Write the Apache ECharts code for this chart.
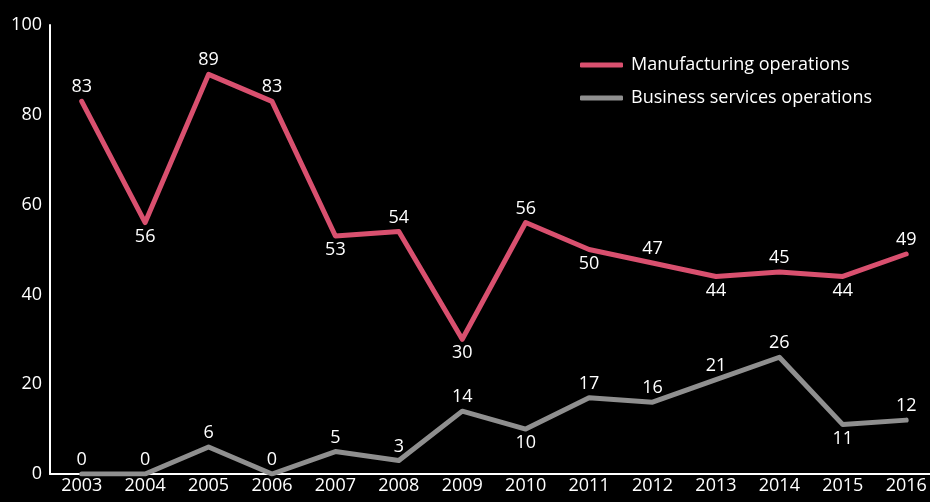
<!DOCTYPE html>
<html><head><meta charset="utf-8">
<script src="https://cdn.jsdelivr.net/npm/echarts@6/dist/echarts.min.js"></script>
<style>html,body{margin:0;padding:0;background:#000}#c{width:930px;height:502px}</style>
</head><body><div id="c"></div>
<script>
const years = [2003,2004,2005,2006,2007,2008,2009,2010,2011,2012,2013,2014,2015,2016];
const manufacturing = [83,56,89,83,53,54,30,56,50,47,44,45,44,49];
const business = [0,0,6,0,5,3,14,10,17,16,21,26,11,12];
const manufacturingLabelPos = ['top','bottom','top','top','bottom','top','bottom','top','bottom','top','bottom','top','bottom','top'];
const businessLabelPos = ['top','top','top','top','top','top','top','bottom','top','top','top','top','bottom','top'];
const yTicks = [0,20,40,60,80,100];

const font = '"Open Sans", sans-serif';
function build(vals, pos){
  return vals.map((v,i)=>({value:[years[i], v], label:{position:pos[i]}}));
}
const chart = echarts.init(document.getElementById('c'));
chart.setOption({
  backgroundColor:'#000',
  animation:false,
  grid:{left:50,right:0,top:25,bottom:28},
  legend:{
    orient:'vertical', left:575, top:51, itemGap:15,
    icon:'roundRect', itemWidth:43, itemHeight:5,
    textStyle:{color:'#fff', fontSize:18, fontFamily:font, padding:[0,0,0,3]},
    data:['Manufacturing operations','Business services operations']
  },
  xAxis:{
    type:'value', min:2002.5, max:2016.375, interval:0.5,
    axisLine:{show:true, onZero:false, lineStyle:{color:'#fff', width:2}},
    axisTick:{show:false}, splitLine:{show:false},
    axisLabel:{color:'#fff', fontSize:18, fontFamily:font, margin:3, showMinLabel:true, showMaxLabel:false,
      formatter:v=> Number.isInteger(v) && years.includes(v) ? String(v) : ''}
  },
  yAxis:{
    type:'value', min:yTicks[0], max:yTicks[yTicks.length-1], interval:20,
    axisLine:{show:true, lineStyle:{color:'#fff', width:2}},
    axisTick:{show:false}, splitLine:{show:false},
    axisLabel:{color:'#fff', fontSize:18, fontFamily:font, margin:8}
  },
  series:[
    {name:'Manufacturing operations', type:'line', data:build(manufacturing, manufacturingLabelPos),
     symbol:'circle', symbolSize:0.1, showSymbol:true, color:'#d9506f',
     itemStyle:{color:'#d9506f'},
     lineStyle:{width:5, color:'#d9506f', cap:'round', join:'round'},
     label:{show:true, color:'#fff', fontSize:18, fontFamily:font, distance:5, formatter:p=>p.value[1]},
     z:3},
    {name:'Business services operations', type:'line', data:build(business, businessLabelPos),
     symbol:'circle', symbolSize:0.1, showSymbol:true, color:'#8f8f8f',
     itemStyle:{color:'#8f8f8f'},
     lineStyle:{width:5, color:'#8f8f8f', cap:'round', join:'round'},
     label:{show:true, color:'#fff', fontSize:18, fontFamily:font, distance:5, formatter:p=>p.value[1]},
     z:2}
  ]
});
</script></body></html>
